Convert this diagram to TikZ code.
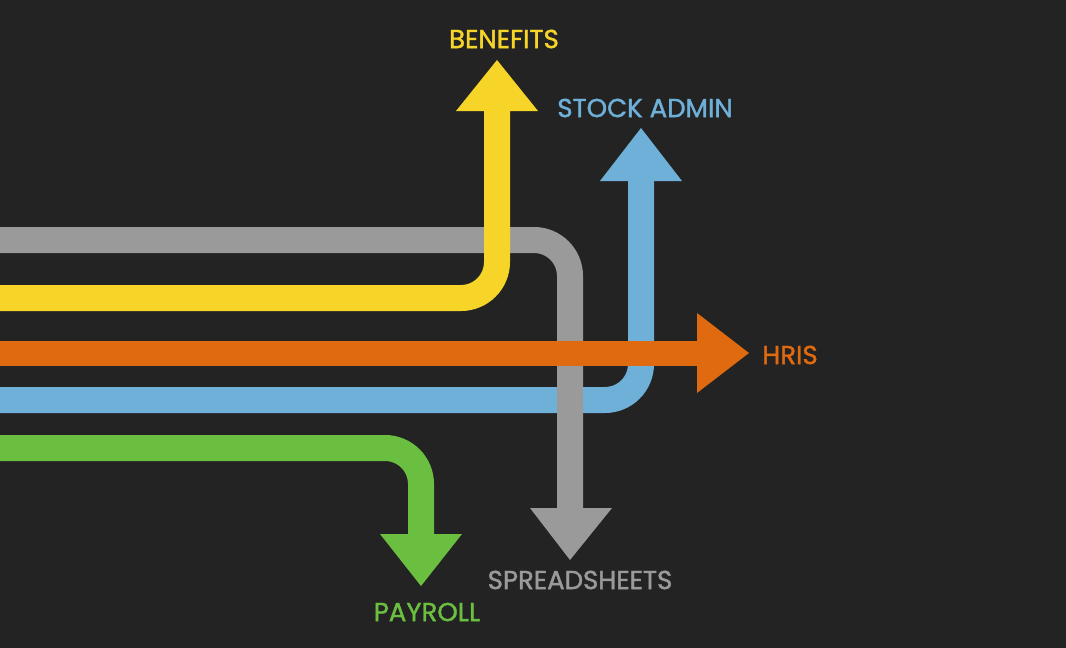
\documentclass[tikz,border=0pt]{standalone}
\usepackage{fontspec}
\setmainfont{Poppins}
\newfontfamily\lblfont[FakeBold=1.5]{Poppins}
\definecolor{bg}{HTML}{232323}
\definecolor{cy}{HTML}{F7D528}
\definecolor{cg}{HTML}{9A9A9A}
\definecolor{co}{HTML}{E06A10}
\definecolor{cb}{HTML}{6EB0D8}
\definecolor{cgr}{HTML}{6BBF40}
\begin{document}
\begin{tikzpicture}[x=1pt,y=-1pt,
  band/.style={line width=26pt,rounded corners=36pt},
  lbl/.style={font=\lblfont\fontsize{26}{28}\selectfont}]
\fill[bg] (0,0) rectangle (1066,648);
\useasboundingbox (0,0) rectangle (1066,648);
% blue
\draw[band,cb] (0,400) -- (641,400) -- (641,181);
\fill[cb] (600,181) -- (641,128) -- (682,181) -- cycle;
% gray
\draw[band,cg] (0,240) -- (570,240) -- (570,508);
\fill[cg] (530,508) -- (570,560) -- (612,508) -- cycle;
% yellow
\draw[band,cy] (0,298) -- (497,298) -- (497,111);
\fill[cy] (456,111) -- (497,60) -- (538,111) -- cycle;
% orange
\draw[line width=25pt,co] (0,353) -- (697,353);
\fill[co] (697,313) -- (749,353) -- (697,393) -- cycle;
% green
\draw[band,cgr] (0,448) -- (421,448) -- (421,534);
\fill[cgr] (380,534) -- (421,586) -- (462,534) -- cycle;
\node[lbl,text=cy] (benefits) at (504,39) {BENEFITS};
\node[lbl,text=cb] (stock) at (645,108) {STOCK ADMIN};
\node[lbl,text=co] (hris) at (790,355) {HRIS};
\node[lbl,text=cg] (spread) at (580,580) {SPREADSHEETS};
\node[lbl,text=cgr] (payroll) at (427,612) {PAYROLL};
\end{tikzpicture}
\end{document}
